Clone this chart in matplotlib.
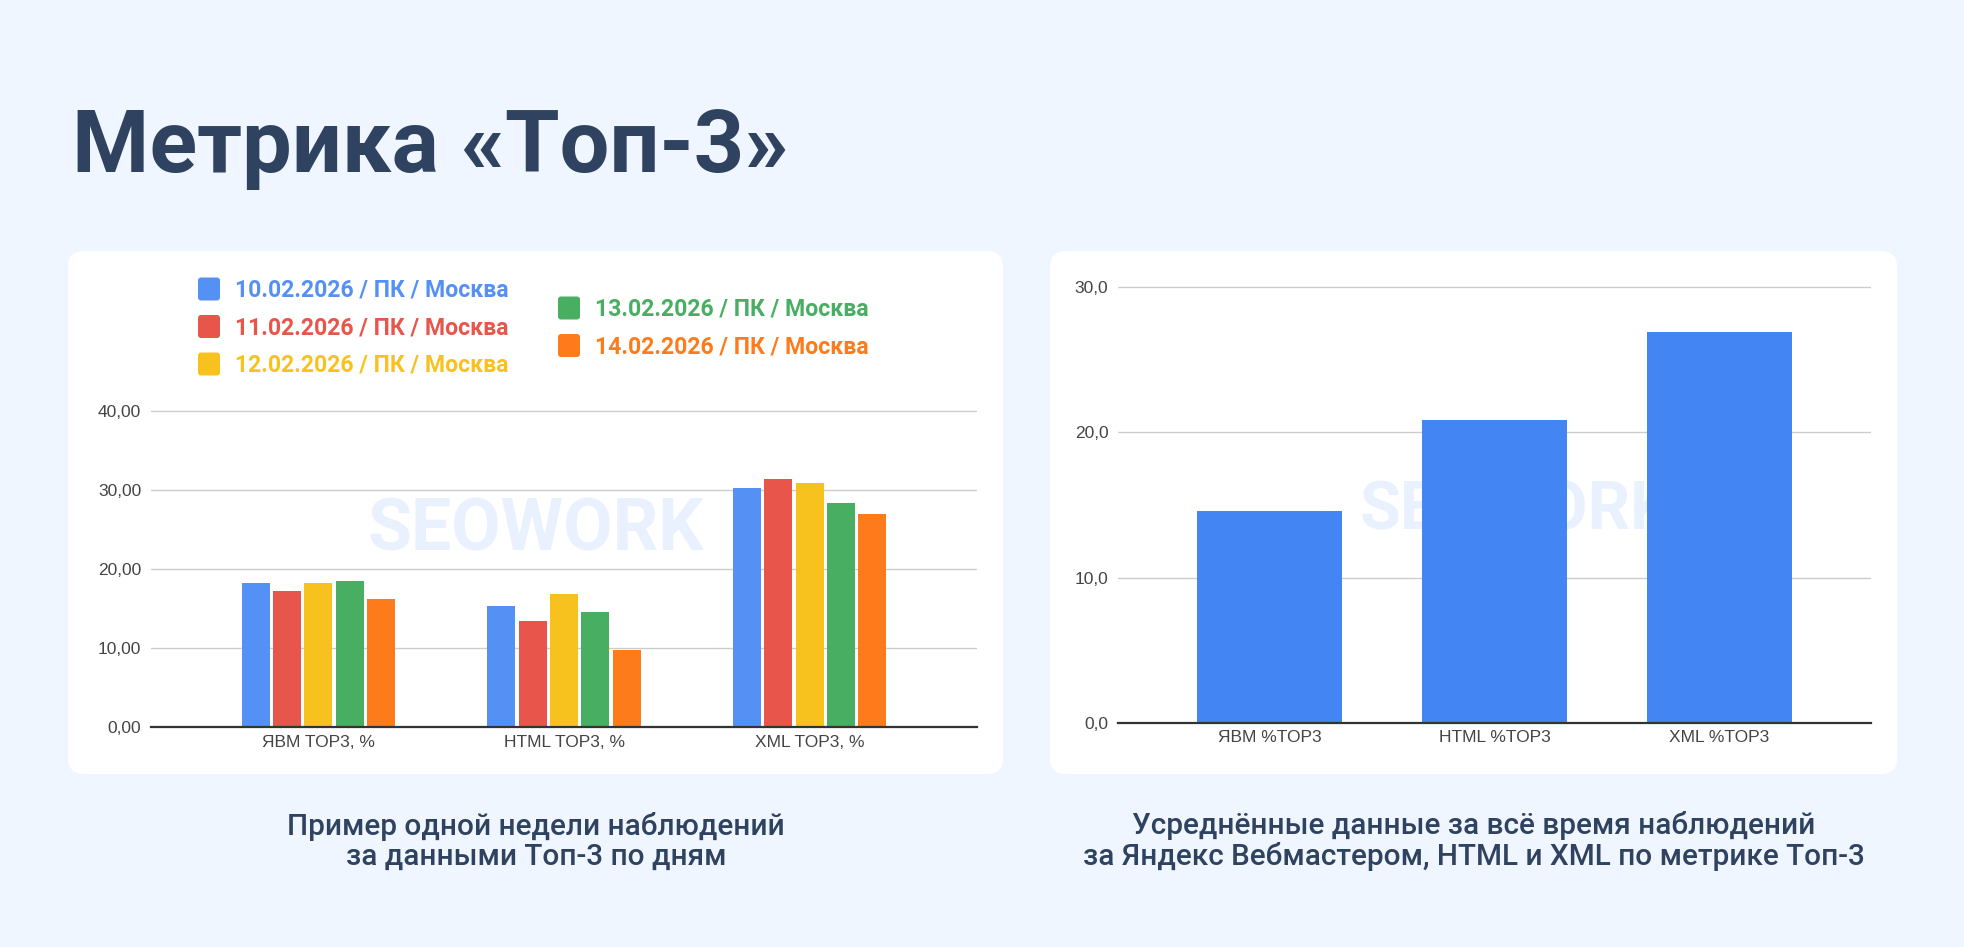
import matplotlib
matplotlib.use('Agg')
import matplotlib.pyplot as plt
from matplotlib.patches import FancyBboxPatch

plt.rcParams['font.family'] = ['Roboto', 'DejaVu Sans']

# data
title = 'Метрика «Топ-3»'

daily_categories = ['ЯВМ TOP3, %', 'HTML TOP3, %', 'XML TOP3, %']
series_labels = [
    '10.02.2026 / ПК / Москва',
    '11.02.2026 / ПК / Москва',
    '12.02.2026 / ПК / Москва',
    '13.02.2026 / ПК / Москва',
    '14.02.2026 / ПК / Москва',
]
series_colors = ['#5591F5', '#E8554A', '#F8C21E', '#47AE62', '#FD7B1A']
day_10 = [18.2, 15.3, 30.2]
day_11 = [17.2, 13.4, 31.4]
day_12 = [18.2, 16.8, 30.8]
day_13 = [18.4, 14.5, 28.3]
day_14 = [16.2, 9.7, 26.9]
daily_ticks = [0, 10, 20, 30, 40]
daily_tick_labels = ['0,00', '10,00', '20,00', '30,00', '40,00']

avg_categories = ['ЯВМ %TOP3', 'HTML %TOP3', 'XML %TOP3']
avg_values = [14.55, 20.85, 26.9]
avg_color = '#4485F4'
avg_ticks = [0, 10, 20, 30]
avg_tick_labels = ['0,0', '10,0', '20,0', '30,0']

left_caption = 'Пример одной недели наблюдений\nза данными Топ-3 по дням'
right_caption = ('Усреднённые данные за всё время наблюдений\n'
                 'за Яндекс Вебмастером, HTML и XML по метрике Топ-3')

BG = '#F0F6FF'
DARK = '#2F4360'
W, H = 1964, 947

fig = plt.figure(figsize=(W / 100, H / 100), dpi=100, facecolor=BG)

# background layer in pixel coordinates
bg = fig.add_axes([0, 0, 1, 1])
bg.set_xlim(0, W)
bg.set_ylim(H, 0)
bg.axis('off')

for x0, y0, x1, y1 in [(68, 251, 1003, 774), (1050, 251, 1897, 774)]:
    bg.add_patch(FancyBboxPatch((x0, y0), x1 - x0, y1 - y0,
                                boxstyle='round,pad=0,rounding_size=16',
                                fc='white', ec='none'))

bg.text(72, 172, title, fontsize=63.5, fontweight='bold', color=DARK,
        va='baseline', ha='left')

bg.text(536, 841, left_caption, fontsize=21.4, fontweight='medium', color=DARK,
        ha='center', va='center', multialignment='center', linespacing=1.08)
bg.text(1474, 841, right_caption, fontsize=21.4, fontweight='medium', color=DARK,
        ha='center', va='center', multialignment='center', linespacing=1.08)

# legend drawn by hand (two columns, second one offset)
legend_pos = [(198, 289), (198, 326.5), (198, 364), (558, 308), (558, 345.5)]
for (lx, ly), lab, col in zip(legend_pos, series_labels, series_colors):
    bg.add_patch(FancyBboxPatch((lx, ly - 11.5), 22, 23,
                                boxstyle='round,pad=0,rounding_size=3',
                                fc=col, ec='none'))
    bg.text(lx + 37.5, ly + 1, lab, fontsize=16.6, fontweight='bold',
            color=col, ha='left', va='center')

TICK_FONT = ['Liberation Sans', 'DejaVu Sans']


def style_axes(ax, ticks, tick_labels, cats, xpad):
    ax.set_facecolor('none')
    for s in ax.spines.values():
        s.set_visible(False)
    ax.set_ylim(ticks[0], ticks[-1] * 1.002)
    ax.set_yticks(ticks, tick_labels, fontfamily=TICK_FONT)
    ax.set_xticks(range(len(cats)), cats, fontfamily=TICK_FONT)
    ax.yaxis.grid(True, color='#CCCCCC', lw=1.0)
    ax.set_axisbelow(True)
    ax.tick_params(axis='both', length=0, labelsize=12.5, labelcolor='#444444')
    ax.tick_params(axis='y', pad=7)
    ax.tick_params(axis='x', pad=xpad)
    ax.axhline(0, color='#333333', lw=1.6, zorder=4, clip_on=False)


# left chart: one week by day
ax1 = fig.add_axes([151 / W, 1 - 727 / H, 826 / W, 317 / H])
step, bw = 0.128, 0.114
for k, (vals, col) in enumerate(zip([day_10, day_11, day_12, day_13, day_14],
                                    series_colors)):
    xs = [i + (k - 2) * step for i in range(len(vals))]
    ax1.bar(xs, vals, width=bw, color=col, zorder=3)
ax1.set_xlim(-0.682, 2.682)
style_axes(ax1, daily_ticks, daily_tick_labels, daily_categories, 6)
ax1.text(0.466, 0.618, 'SEOWORK', transform=ax1.transAxes, fontsize=51.5,
         fontweight='bold', color='#EAF1FE', ha='center', va='center', zorder=2)

# right chart: averages
ax2 = fig.add_axes([1118 / W, 1 - 723 / H, 752.6 / W, 437 / H])
ax2.bar(range(len(avg_values)), avg_values, width=0.648, color=avg_color, zorder=3)
ax2.set_xlim(-0.673, 2.672)
style_axes(ax2, avg_ticks, avg_tick_labels, avg_categories, 5)
ax2.text(0.530, 0.483, 'SEOWORK', transform=ax2.transAxes, fontsize=48,
         fontweight='bold', color='#EAF1FE', ha='center', va='center', zorder=2)

fig.savefig('out.png', dpi=100, facecolor=BG)
